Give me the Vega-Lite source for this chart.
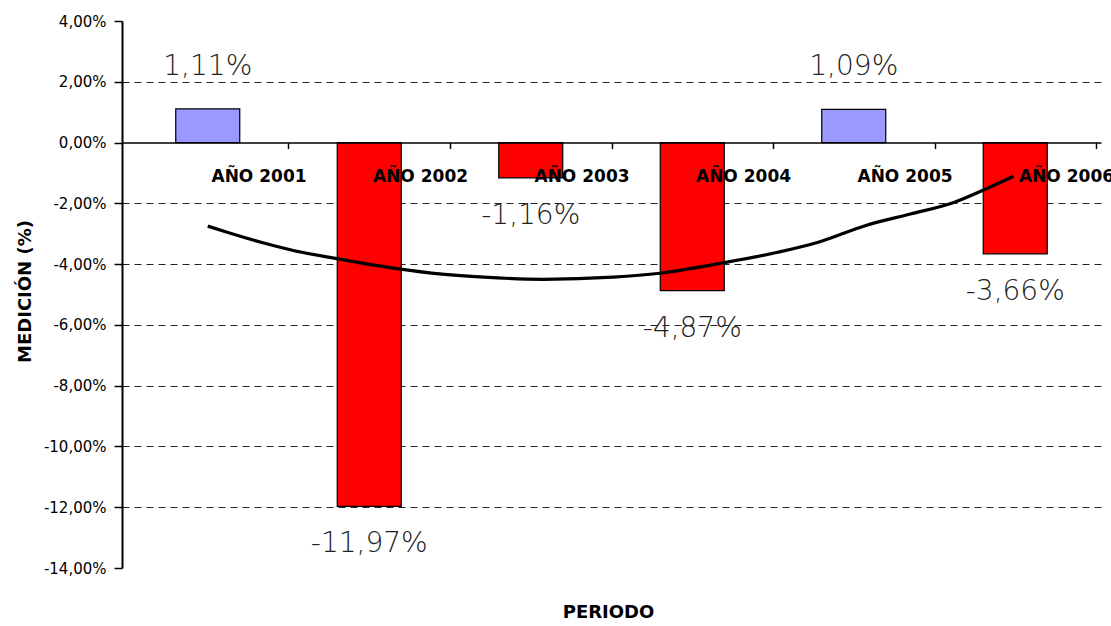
{
  "$schema": "https://vega.github.io/schema/vega-lite/v6.json",
  "width": 979,
  "height": 547,
  "autosize": "none",
  "padding": {"left": 122, "top": 21, "right": 10, "bottom": 58},
  "background": "white",
  "config": {
    "view": {"stroke": null},
    "locale": {"number": {"decimal": ",", "thousands": ".", "grouping": [3], "currency": ["", " €"], "minus": "-", "percent": "%"}}
  },
  "datasets": {
    "bars": [
      {"year": 2001, "value": 0.0111},
      {"year": 2002, "value": -0.1197},
      {"year": 2003, "value": -0.0116},
      {"year": 2004, "value": -0.0487},
      {"year": 2005, "value": 0.0109},
      {"year": 2006, "value": -0.0366}
    ],
    "trend": [
      {"year": 2001.00, "value": -0.0275},
      {"year": 2001.12, "value": -0.0295},
      {"year": 2001.33, "value": -0.0328},
      {"year": 2001.53, "value": -0.0355},
      {"year": 2001.79, "value": -0.0381},
      {"year": 2002.16, "value": -0.0414},
      {"year": 2002.45, "value": -0.0433},
      {"year": 2002.71, "value": -0.0443},
      {"year": 2003.08, "value": -0.0450},
      {"year": 2003.51, "value": -0.0443},
      {"year": 2003.80, "value": -0.0430},
      {"year": 2004.18, "value": -0.0397},
      {"year": 2004.53, "value": -0.0361},
      {"year": 2004.78, "value": -0.0328},
      {"year": 2005.08, "value": -0.0272},
      {"year": 2005.35, "value": -0.0235},
      {"year": 2005.62, "value": -0.0197},
      {"year": 2005.80, "value": -0.0157},
      {"year": 2005.99, "value": -0.0111}
    ]
  },
  "encoding": {
    "x": {
      "field": "year", "type": "quantitative",
      "scale": {"domain": [2000.5, 2006.5], "nice": false, "zero": false},
      "axis": {
        "orient": "bottom", "offset": -425.4,
        "values": [2001.5, 2002.5, 2003.5, 2004.5, 2005.5, 2006.5],
        "labelExpr": "'AÑO ' + (datum.value - 0.5)",
        "labelFont": "DejaVu Sans", "labelFontWeight": "bold", "labelFontSize": 17,
        "labelColor": "black", "labelOffset": -30, "labelPadding": 20, "labelBaseline": "top",
        "labelFlush": false, "labelOverlap": false, "labelBound": false,
        "tickSize": 6, "tickColor": "black", "tickWidth": 1.5,
        "domainColor": "black", "domainWidth": 1.5,
        "grid": false, "zindex": 1,
        "title": "PERIODO", "titleFont": "DejaVu Sans", "titleFontWeight": "bold", "titleFontSize": 18,
        "titleColor": "black", "titleBaseline": "middle", "titleY": 470, "titleX": 486
      }
    },
    "y": {
      "field": "value", "type": "quantitative",
      "scale": {"domain": [-0.14, 0.04], "nice": false, "zero": false},
      "axis": {
        "values": [0.04, 0.02, 0, -0.02, -0.04, -0.06, -0.08, -0.1, -0.12, -0.14],
        "format": ".2%",
        "labelFont": "DejaVu Sans", "labelFontSize": 15, "labelColor": "black", "labelPadding": 8,
        "tickSize": 8, "tickColor": "black", "tickWidth": 1.5,
        "domainColor": "black", "domainWidth": 2,
        "grid": true, "gridColor": "#222", "gridDash": [7, 5], "gridWidth": 1.2,
        "gridOpacity": {"condition": {"test": "datum.value == 0 || datum.value > 0.03 || datum.value < -0.13", "value": 0}, "value": 1},
        "title": "MEDICIÓN (%)", "titleFont": "DejaVu Sans", "titleFontWeight": "bold", "titleFontSize": 18,
        "titleColor": "black", "titleBaseline": "middle", "titleX": -97, "titleY": 270, "titleAngle": 270
      }
    }
  },
  "layer": [
    {
      "data": {"name": "bars"},
      "mark": {"type": "bar", "size": 64, "stroke": "black", "strokeWidth": 1.2},
      "encoding": {
        "color": {
          "condition": {"test": "datum.value > 0", "value": "#9999FF"},
          "value": "#FF0000"
        }
      }
    },
    {
      "data": {"name": "trend"},
      "mark": {"type": "line", "color": "black", "strokeWidth": 3.2, "interpolate": "monotone"},
      "encoding": {}
    },
    {
      "data": {"name": "bars"},
      "transform": [{"filter": "datum.value > 0"}],
      "mark": {"type": "text", "font": "DejaVu Sans", "fontWeight": 200, "fontSize": 28, "color": "#222", "baseline": "middle", "dy": -42},
      "encoding": {"text": {"field": "value", "type": "quantitative", "format": ".2%"}}
    },
    {
      "data": {"name": "bars"},
      "transform": [{"filter": "datum.value < 0"}],
      "mark": {"type": "text", "font": "DejaVu Sans", "fontWeight": 200, "fontSize": 28, "color": "#222", "baseline": "middle", "dy": 38},
      "encoding": {"text": {"field": "value", "type": "quantitative", "format": ".2%"}}
    }
  ]
}
